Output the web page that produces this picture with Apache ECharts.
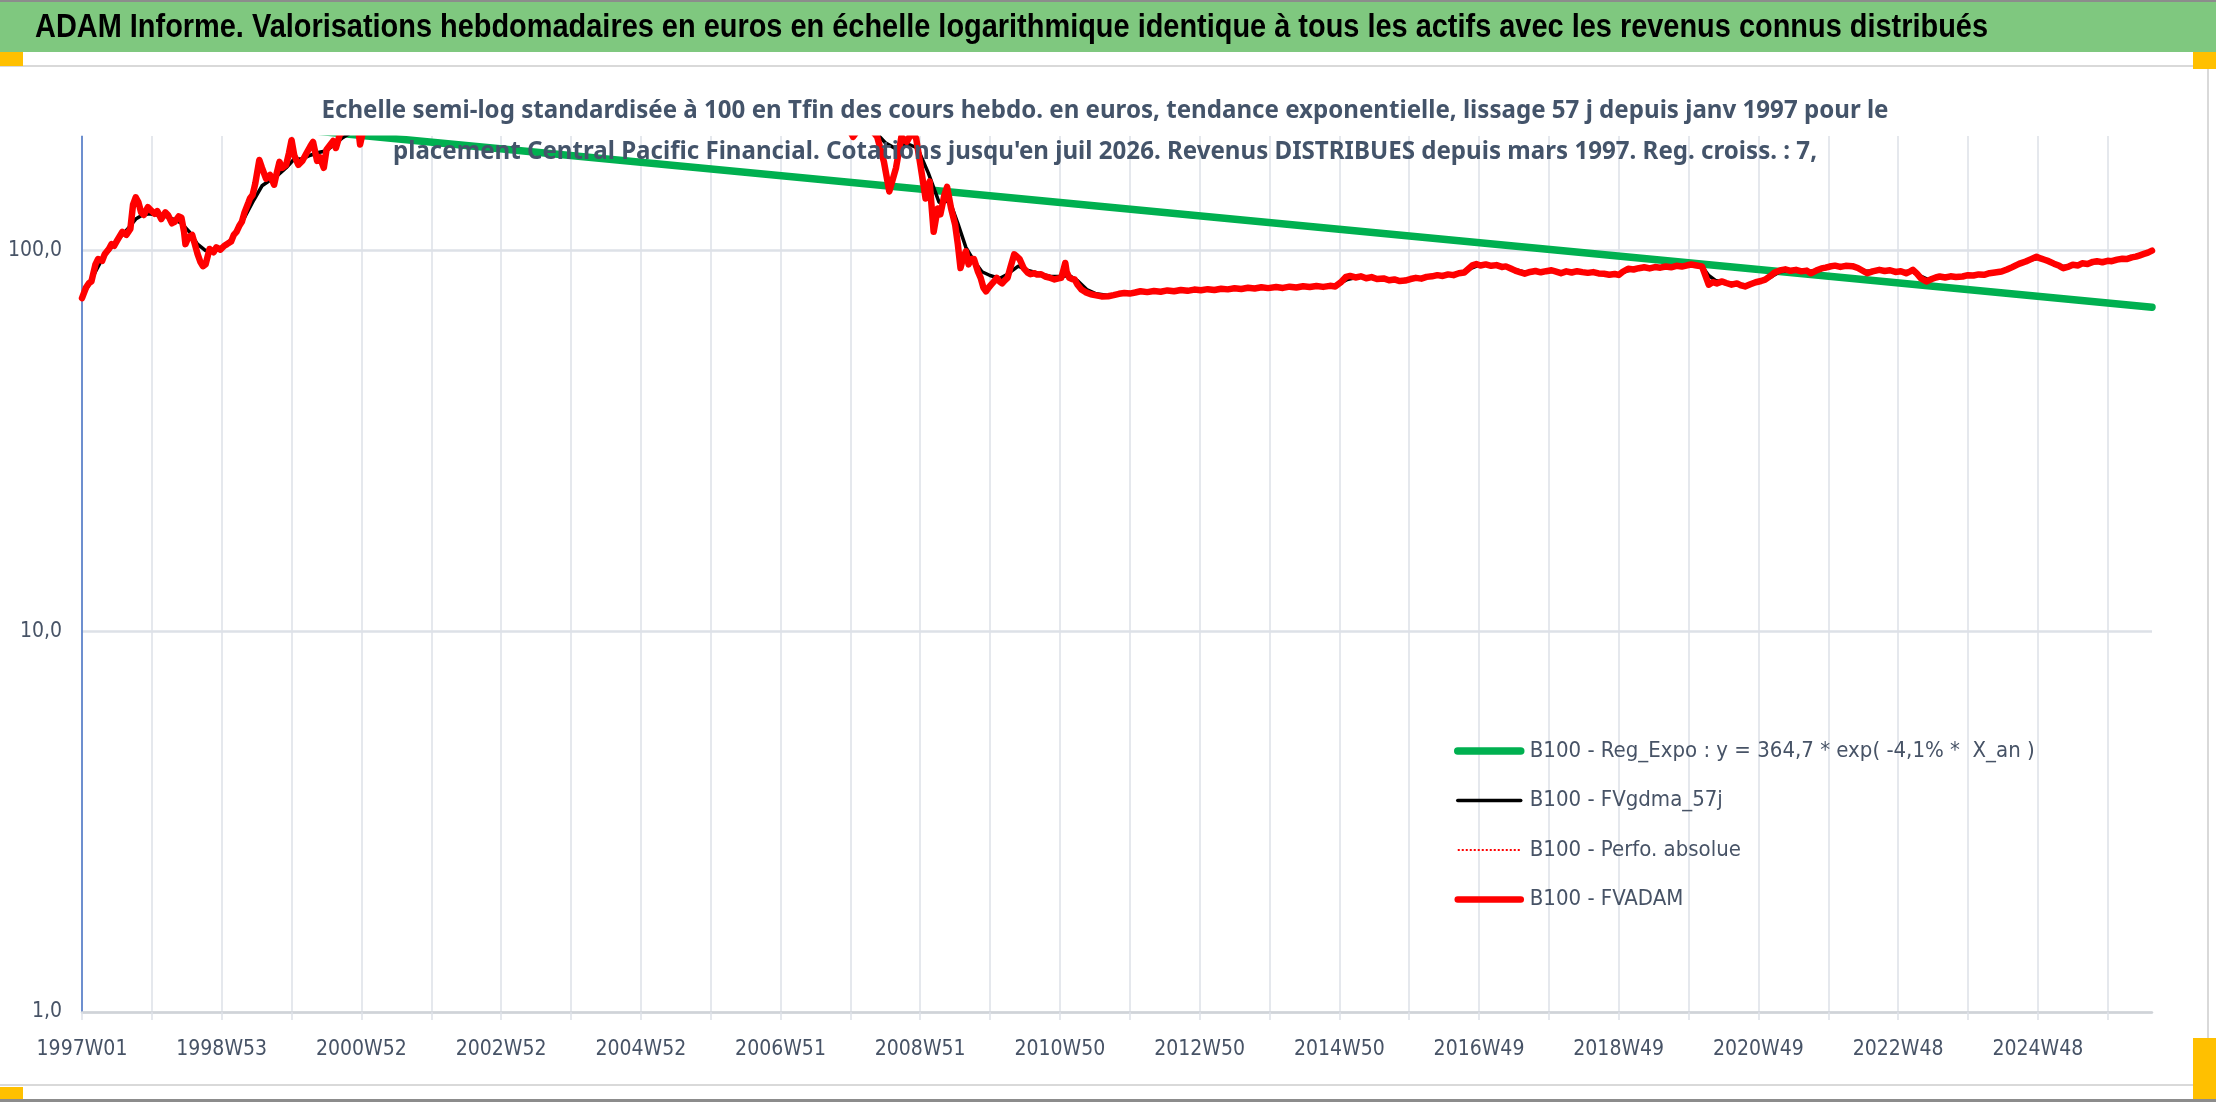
<!DOCTYPE html>
<html>
<head>
<meta charset="utf-8">
<title>ADAM Informe</title>
<script src="https://cdn.jsdelivr.net/npm/echarts@6/dist/echarts.min.js"></script>
<style>
  html, body { margin: 0; padding: 0; background: #fff; }
  #main { width: 2216px; height: 1102px; }
</style>
</head>
<body>
<div id="main"></div>
<script>
// textes
var mainTitle = "ADAM Informe. Valorisations hebdomadaires en euros en échelle logarithmique identique à tous les actifs avec les revenus connus distribués";
var subLine1 = "Echelle semi-log standardisée à 100 en Tfin des cours hebdo. en euros, tendance exponentielle, lissage 57 j depuis janv 1997 pour le";
var subLine2 = "placement Central Pacific Financial. Cotations jusqu'en juil 2026. Revenus DISTRIBUES depuis mars 1997. Reg. croiss. : 7,";

// etiquettes de l'axe X (une toutes les 104 semaines)
var xTickLabels = ['1997W01', '1998W53', '2000W52', '2002W52', '2004W52', '2006W51', '2008W51',
    '2010W50', '2012W50', '2014W50', '2016W49', '2018W49', '2020W49', '2022W48', '2024W48'];
var lastWeek = 1541;
var yTickValues = [1, 10, 100];

var seriesNames = [
    'B100 - Reg_Expo : y = 364,7 * exp( -4,1% *  X_an )',
    'B100 - FVgdma_57j',
    'B100 - Perfo. absolue',
    'B100 - FVADAM'
];

// tendance exponentielle [semaine, valeur]
var regExpo = [[0, 236], [1541, 71]];

// FVADAM [semaine, valeur]
var fvadam = [
    [0,75],[3,80],[5,82],[7,83],[10,92],[12,95],[15,94],[17,98],[20,101],[22,104],[24,103],[26,106],[28,109],[30,112],
    [33,110],[36,114],[38,132],[40,138],[42,134],[44,126],[46,124],[49,130],[51,128],[54,125],[56,127],[59,121],[62,126],
    [64,124],[67,118],[69,119],[72,123],[74,122],[76,112],[77,104],[79,108],[82,110],[84,104],[86,98],[88,93.6],[90,91],
    [92,92],[94,98],[95,101],[98,99],[100,102],[103,100.6],[106,103],[108,104],[111,105.6],[113,110],[115,112],[117,116],
    [119,119],[121,126],[124,134],[125,137],[127,140],[129,150],[132,173],[134,165],[137,154.5],[140,158],[143,149],
    [145,160],[147,171],[149,165],[152,168],[154,180],[156,195],[158,178],[161,168],[164,172],[167,180],[170,188],
    [172,193],[175,172],[177,176],[180,165],[182,184],[185,190],[187,194],[189,186],[192,202],[195,206],[199,210],
    [203,212],[206,204],[207,190],[209,204],[212,215],[216,225],
    [224,240],[232,255],[240,245],[250,270],[260,290],[272,275],[284,260],[296,250],[310,265],[325,285],[340,300],
    [356,320],[372,310],[388,295],[404,305],[420,330],[436,345],[452,335],[468,320],[484,310],[500,300],[516,290],
    [532,275],[548,260],[560,240],[566,225],[570,212],[574,199],[578,208],[582,218],[586,214],[589,205],[592,199],
    [597,171],[601,143],[606,165],[610,199],[614,193],[618,205],[621,197],[624,169],[628,137],[631,152],[634,112],
    [637,129],[639,124.5],[642,140],[644,147],[647,129],[650,117],[652,104],[654,90],[656,96],[658,99.6],[660,92],
    [662,95],[664,95],[667,88],[669,84.8],[671,80],[673,78.2],[675,80],[677,81.5],[679,83],[681,84.8],[683,83],
    [685,82],[687,83.5],[689,84.8],[691,90],[694,97.8],[696,96.5],[698,95],[701,90],[704,87.5],[706,86.7],[709,87.2],
    [711,86.5],[714,86.7],[717,85.5],[720,85],[722,84.5],[724,84],[727,84.5],[729,84.8],[731,90],[732,92.8],[733,88],
    [735,84.8],[737,84.2],[739,84],[741,81.5],[744,79],[747,77.8],[751,76.8],[755,76.3],[759,75.8],[764,75.9],
    [768,76.4],[772,77],[776,77.4],[780,77.1],[784,77.6],[788,78.2],
    [793,77.8],[798,78.3],[803,78],[808,78.6],[813,78.2],[818,78.8],[823,78.4],[828,79],[833,78.7],[838,79.2],
    [843,78.8],[848,79.4],[853,79.1],[858,79.6],[863,79.3],[868,79.9],[873,79.5],[878,80.1],[883,79.7],[889,80.2],
    [894,79.8],[899,80.4],[904,80],[909,80.6],[914,80.2],[919,80.7],[924,80.3],[929,80.8],[933,80.5],[937,82.5],
    [941,85.3],[944,85.8],[948,85],[952,85.6],[956,84.6],[960,85.2],[964,84.2],[969,84.5],[973,83.6],[977,84],
    [981,83.2],[985,83.4],[989,84.2],[993,84.8],[997,84.4],[1001,85.3],[1005,85.6],[1009,86.2],[1013,85.8],
    [1017,86.6],[1021,86.2],[1025,87.2],[1029,87.6],[1032,89.5],[1035,91.5],[1038,92.2],[1041,91.4],[1045,92],
    [1049,91.2],[1053,91.6],[1057,90.6],[1060,90.9],[1064,89.6],[1067,88.6],[1071,87.6],[1074,87],[1078,87.9],
    [1082,88.4],[1086,87.7],[1090,88.3],[1094,88.8],[1098,87.9],[1101,87.2],[1105,88.2],[1109,87.6],[1113,88.3],
    [1117,87.8],[1121,87.4],[1125,87.8],[1129,87.1],[1133,86.9],[1137,86.4],[1141,86.8],[1144,86.3],[1147,88],
    [1151,89.6],[1155,89.2],[1159,89.9],[1163,90.4],[1167,89.8],[1171,90.5],[1175,90.2],[1179,90.8],[1183,90.4],
    [1187,91.2],[1191,90.8],[1195,91.5],[1198,91.9],[1202,91.4],[1206,90.9],[1208,87],[1211,81.4],[1214,82.6],
    [1217,82],[1221,83],[1224,82.2],[1228,81.4],[1232,82],[1235,81],[1238,80.5],[1242,81.6],[1246,82.6],[1250,83.2],
    [1253,83.9],[1257,85.8],[1260,87.6],[1264,88.7],[1268,89.3],[1272,88.5],[1276,89],[1280,88.2],[1284,88.6],
    [1287,87.2],[1291,88.6],[1295,89.8],[1298,90.2],[1301,90.8],[1305,91.3],[1309,90.6],[1313,91.2],[1318,91],
    [1322,90],[1326,88.4],[1329,87.2],[1333,88.2],[1338,89],[1342,88.4],[1346,88.8],[1350,87.9],[1354,88.3],
    [1358,87.2],[1361,88.2],[1363,89],[1366,87],[1369,84.5],[1373,83],[1377,84.2],[1380,85],[1383,85.5],[1387,85],
    [1391,85.6],[1395,85.2],[1400,85.5],[1404,86.2],[1408,86],[1412,86.6],[1416,86.4],[1420,87.2],[1424,87.6],
    [1429,88.1],[1433,89.2],[1437,90.5],[1440,91.6],[1443,92.6],[1447,93.6],[1451,95],[1455,96.4],[1458,95.4],
    [1461,94.6],[1464,93.8],[1468,92.4],[1472,91.2],[1475,89.9],[1479,90.8],[1482,91.8],[1486,91.4],[1489,92.6],
    [1493,92.2],[1497,93.4],[1500,93.8],[1504,93.2],[1508,94],[1511,93.8],[1515,94.7],[1519,95.2],[1522,95],
    [1526,96],[1529,96.4],[1532,97.2],[1535,98],[1538,98.8],[1541,100]
];

// moyenne lissee 57 j [semaine, valeur]
var fvgdma = [
    [0,76],[5,81],[10,88],[15,95],[20,100],[25,105],[30,110],[35,115],[40,121],[45,124],[50,125],[56,124],[62,123],
    [68,121],[74,118],[80,112],[86,104],[92,100],[98,100],[104,102],[110,106],[116,113],[122,124],[128,136],[134,148],
    [140,153],[146,158],[152,165],[158,174],[164,174],[170,178],[176,181],[182,183],[188,190],[194,198],[200,204],
    [208,206],[216,215],[230,245],[250,262],[270,278],[290,262],[310,262],[330,288],[350,310],[370,312],[390,300],
    [410,310],[430,335],[450,338],[470,322],[490,308],[510,295],[530,280],[550,262],[566,232],[578,212],[590,206],
    [598,192],[606,185],[614,191],[622,186],[630,160],[638,134],[646,135],[652,118],[658,102],[664,94],[670,88],
    [676,86],[683,84.5],[689,86.7],[697,91],[705,88.5],[713,87],[721,85.5],[729,85.5],[735,86],[741,83.5],[748,79],
    [755,77],[764,76.2],[776,77.2],[790,78],[805,78.3],[820,78.6],[835,79],[850,79.3],[865,79.6],[880,79.9],
    [895,80.1],[910,80.4],[925,80.6],[935,81.5],[942,84],[950,85.2],[960,84.9],[970,84.2],[980,83.6],[990,84.2],
    [1000,85],[1010,85.9],[1020,86.4],[1028,87.4],[1034,89.8],[1040,91.6],[1050,91.5],[1060,90.8],[1068,89],
    [1076,87.5],[1086,88],[1096,88.3],[1106,87.9],[1116,88],[1126,87.6],[1136,86.7],[1144,86.4],[1150,88.4],
    [1160,89.9],[1170,90.2],[1180,90.6],[1190,91],[1200,91.6],[1206,91],[1211,86],[1216,83.5],[1224,82.5],
    [1232,81.7],[1240,81.2],[1248,82.4],[1256,84.8],[1264,88],[1274,88.8],[1286,88.2],[1296,89.5],[1306,90.9],
    [1318,90.9],[1328,88.3],[1340,88.6],[1352,88],[1362,88.2],[1368,86],[1374,84],[1384,85.2],[1396,85.4],
    [1408,86.1],[1420,87.1],[1430,88.4],[1440,91.2],[1450,94.4],[1458,95.6],[1466,93.6],[1474,90.8],[1484,91.4],
    [1494,92.6],[1504,93.4],[1514,94.4],[1524,95.4],[1532,96.8],[1541,99.5]
];

// perfo absolue : confondue avec FVADAM sur le graphique
var perfoAbsolue = fvadam;

var narrowFont = '"DejaVu Sans Condensed", "Liberation Sans", sans-serif';
var labelColor = '#475366';
var gridColor = '#DDE1E7';

// largeur naturelle d'un texte, pour le resserrer comme dans l'original
function textWidth(text, font) {
    var ctx = document.createElement('canvas').getContext('2d');
    ctx.font = font;
    return ctx.measureText(text).width;
}
var titleFont = 'bold 34px "Liberation Sans", Arial, sans-serif';
var subFont = 'bold 25px "Noto Sans", sans-serif';
var titleScale = 1953 / textWidth(mainTitle, titleFont);
var sub1Scale = 1567 / textWidth(subLine1, subFont);
var sub2Scale = 1424 / textWidth(subLine2, subFont);

var myChart = echarts.init(document.getElementById('main'));

var option = {
    animation: false,
    backgroundColor: '#ffffff',
    graphic: [
        // bandeau vert du titre
        { type: 'rect', silent: true, z: 0, shape: { x: 0, y: 0, width: 2216, height: 52 }, style: { fill: '#7FC87F' } },
        { type: 'rect', silent: true, z: 1, shape: { x: 0, y: 0, width: 2216, height: 2 }, style: { fill: '#8C8C8C' } },
        // cadre du graphique
        { type: 'rect', silent: true, z: 0, shape: { x: 0, y: 65, width: 2209, height: 2 }, style: { fill: '#D9D9D9' } },
        { type: 'rect', silent: true, z: 0, shape: { x: 0, y: 1084, width: 2209, height: 2 }, style: { fill: '#D9D9D9' } },
        { type: 'rect', silent: true, z: 0, shape: { x: 2207, y: 65, width: 2, height: 1021 }, style: { fill: '#D9D9D9' } },
        { type: 'rect', silent: true, z: 0, shape: { x: 0, y: 1099, width: 2216, height: 3 }, style: { fill: '#8C8C8C' } },
        // bande blanche au-dessus de la zone de trace (coupure nette comme Excel)
        { type: 'rect', silent: true, z: 5, shape: { x: 60, y: 118, width: 2120, height: 17.5 }, style: { fill: '#ffffff' } },
        // poignees jaunes
        { type: 'rect', silent: true, z: 1, shape: { x: 0, y: 52, width: 23, height: 14 }, style: { fill: '#FFC000' } },
        { type: 'rect', silent: true, z: 1, shape: { x: 2193, y: 52, width: 23, height: 17 }, style: { fill: '#FFC000' } },
        { type: 'rect', silent: true, z: 1, shape: { x: 2193, y: 1038, width: 23, height: 61 }, style: { fill: '#FFC000' } },
        { type: 'rect', silent: true, z: 1, shape: { x: 0, y: 1087, width: 23, height: 12 }, style: { fill: '#FFC000' } },
        // titres
        {
            type: 'text', silent: true, z: 10, x: 35, y: 28, scaleX: titleScale,
            style: { text: mainTitle, font: titleFont, fill: '#000000', align: 'left', verticalAlign: 'middle' }
        },
        {
            type: 'text', silent: true, z: 10, x: 1105, y: 111, scaleX: sub1Scale,
            style: { text: subLine1, font: subFont, fill: '#44546A', align: 'center', verticalAlign: 'middle' }
        },
        {
            type: 'text', silent: true, z: 10, x: 1105, y: 152, scaleX: sub2Scale,
            style: { text: subLine2, font: subFont, fill: '#44546A', align: 'center', verticalAlign: 'middle' }
        }
    ],
    legend: {
        orient: 'vertical',
        left: 1449,
        top: 732,
        itemWidth: 63,
        itemHeight: 14,
        itemGap: 21.5,
        itemStyle: { opacity: 0 },
        lineStyle: { width: 'inherit' },
        data: [
            { name: seriesNames[0], lineStyle: { cap: 'round' } },
            { name: seriesNames[1], lineStyle: { cap: 'round' } },
            { name: seriesNames[2] },
            { name: seriesNames[3], lineStyle: { cap: 'round' } }
        ],
        textStyle: { fontFamily: narrowFont, fontSize: 22, color: labelColor, lineHeight: 28, padding: [0, 0, 0, 4] }
    },
    grid: { left: 82, right: 64, top: 136, bottom: 90, containLabel: false },
    xAxis: {
        type: 'value',
        min: 0,
        max: lastWeek,
        interval: 52,
        axisLine: { show: true, onZero: false, lineStyle: { color: '#D0D3D8', width: 2.5 } },
        axisTick: { show: true, length: 8, lineStyle: { color: gridColor, width: 1.5 } },
        splitLine: { show: true, showMaxLine: false, lineStyle: { color: gridColor, width: 1.5 } },
        axisLabel: {
            margin: 27,
            fontFamily: narrowFont,
            fontSize: 21,
            color: labelColor,
            showMaxLabel: false,
            formatter: function (v) {
                if (v % 104 === 0) { return xTickLabels[v / 104] || ''; }
                return '';
            }
        }
    },
    yAxis: {
        type: 'log',
        logBase: 10,
        min: 1,
        max: 200,
        axisLine: { show: true, lineStyle: { color: '#4472C4', width: 1.5 } },
        axisTick: { show: false },
        splitLine: { show: true, showMaxLine: false, lineStyle: { color: gridColor, width: 2.5 } },
        axisLabel: {
            margin: 20,
            fontFamily: narrowFont,
            fontSize: 21,
            color: labelColor,
            showMaxLabel: false,
            formatter: function (v) {
                for (var i = 0; i < yTickValues.length; i++) {
                    if (Math.abs(v - yTickValues[i]) < 1e-6 * yTickValues[i]) {
                        return yTickValues[i].toFixed(1).replace('.', ',');
                    }
                }
                return '';
            }
        }
    },
    series: [
        {
            name: seriesNames[0], type: 'line', data: regExpo, symbol: 'none', clip: true,
            lineStyle: { color: '#00B050', width: 7.5, cap: 'round' }, itemStyle: { color: '#00B050' }
        },
        {
            name: seriesNames[1], type: 'line', data: fvgdma, symbol: 'none', clip: true,
            lineStyle: { color: '#000000', width: 3.5, cap: 'round', join: 'round' }, itemStyle: { color: '#000000' }
        },
        {
            name: seriesNames[2], type: 'line', data: perfoAbsolue, symbol: 'none', clip: true,
            lineStyle: { color: '#FF0000', width: 2, type: 'dotted' }, itemStyle: { color: '#FF0000' }
        },
        {
            name: seriesNames[3], type: 'line', data: fvadam, symbol: 'none', clip: true,
            lineStyle: { color: '#FF0000', width: 6.5, cap: 'round', join: 'round' }, itemStyle: { color: '#FF0000' }
        }
    ]
};

myChart.setOption(option);
</script>
</body>
</html>
